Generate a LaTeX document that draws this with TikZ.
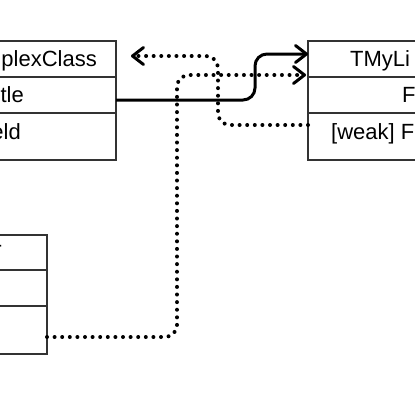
\documentclass[tikz,border=0pt]{standalone}
\usepackage{fontspec}
\setmainfont{Liberation Sans}
\usetikzlibrary{arrows.meta}

\tikzset{
  row/.style={draw=black!80, line width=2pt, minimum width=220pt,
              minimum height=36pt, inner sep=0pt, outer sep=0pt},
  txt/.style={inner sep=0pt, font=\fontsize{22}{26}\selectfont},
  link/.style={line width=3pt, rounded corners=12pt,
               -{Straight Barb[length=11pt,width=17pt,round,line width=3pt]}},
  weaklink/.style={link, line width=4pt, line cap=round,
                   dash pattern=on 0pt off 7.6pt},
}

\begin{document}
\begin{tikzpicture}[x=1pt,y=-1pt]
  \useasboundingbox (0,0) rectangle (415,407);
  \clip (0,0) rectangle (415,407);

  % class on the left
  \node[row, anchor=north east]        (cplx-head)  at (116,41)          {};
  \node[row, anchor=north]             (cplx-title) at (cplx-head.south) {};
  \node[row, anchor=north, minimum height=47pt] (cplx-field) at (cplx-title.south) {};
  \node[txt, anchor=base east] (cplx-name)  at (97,66)  {plexClass};
  \node[txt, anchor=base east] (cplx-t)     at (24,102) {tle};
  \node[txt, anchor=base east] (cplx-f)     at (21,139) {eld};

  % class on the right
  \node[row, anchor=north west]        (lst-head)  at (308,41)         {};
  \node[row, anchor=north]             (lst-item)  at (lst-head.south) {};
  \node[row, anchor=north, minimum height=47pt] (lst-ref) at (lst-item.south) {};
  \node[txt, anchor=base west] (lst-name) at (350,66)  {TMyLi};
  \node[txt, anchor=base west] (lst-i)    at (402,102) {F};
  \node[txt, anchor=base west] (lst-r)    at (331,139) {[weak] F};

  % class below
  \node[row, anchor=north east, minimum height=35pt] (own-head) at (47,235) {};
  \node[row, anchor=north]             (own-item) at (own-head.south) {};
  \node[row, anchor=north, minimum height=48pt] (own-ref) at (own-item.south) {};
  \node[txt, anchor=base east] (own-name) at (2,260) {T};

  % references
  \draw[link] ([yshift=-5pt]cplx-title.east) -- ++(139,0)
              |- ([yshift=5pt]lst-head.west);
  \draw[weaklink] ([yshift=-7pt]own-ref.east) -- ++(130,0)
              |- ([xshift=-2pt,yshift=-16pt]lst-head.west);
  \draw[weaklink] ([yshift=11.5pt]lst-ref.west) -- ++(-90,0)
              |- ([xshift=15pt,yshift=3pt]cplx-head.east);
\end{tikzpicture}
\end{document}
